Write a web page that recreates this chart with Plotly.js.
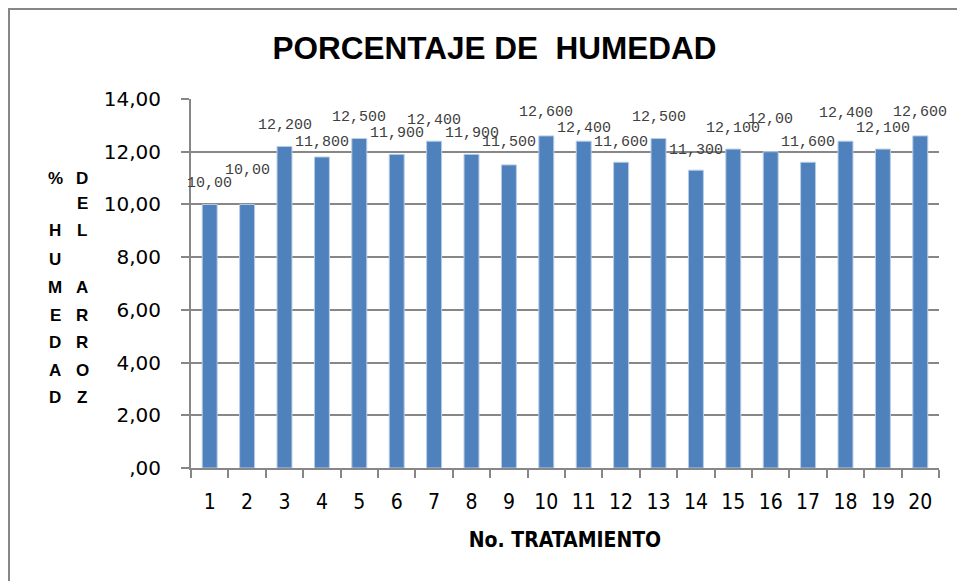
<!DOCTYPE html>
<html>
<head>
<meta charset="utf-8">
<script src="https://cdn.plot.ly/plotly-3.0.1.min.js"></script>
<style>
html,body{margin:0;padding:0;background:#fff;}
#wrap{position:relative;width:957px;height:581px;overflow:hidden;}
#chart{position:absolute;left:0;top:0;width:957px;height:581px;}
#frame{position:absolute;left:8px;top:8px;width:1000px;height:700px;border-left:2px solid #878787;border-top:2px solid #878787;pointer-events:none;}
</style>
</head>
<body>
<div id="wrap"><div id="chart"></div><div id="frame"></div></div>
<script>
// ---- data ----
const categories = ["1","2","3","4","5","6","7","8","9","10","11","12","13","14","15","16","17","18","19","20"];
const humedad = [10.0, 10.0, 12.2, 11.8, 12.5, 11.9, 12.4, 11.9, 11.5, 12.6, 12.4, 11.6, 12.5, 11.3, 12.1, 12.0, 11.6, 12.4, 12.1, 12.6];
const dataLabels = ["10,00","10,00","12,200","11,800","12,500","11,900","12,400","11,900","11,500","12,600","12,400","11,600","12,500","11,300","12,100","12,00","11,600","12,400","12,100","12,600"];
const yTickVals = [0, 2, 4, 6, 8, 10, 12, 14];
const yTickText = [",00", "2,00", "4,00", "6,00", "8,00", "10,00", "12,00", "14,00"];
const titleText = "PORCENTAJE DE\u00a0 HUMEDAD";
const xTitleText = "No. TRATAMIENTO";
const yTitleLeft = ["%", "", "H", "U", "M", "E", "D", "A", "D"];
const yTitleRight = ["D", "E", "L", "", "A", "R", "R", "O", "Z"];

// ---- styling (label offsets in px above bar top) ----
const labelShift = [21, 34, 21, 14, 21, 21, 21, 21, 22, 23, 13, 20, 21, 20, 21, 32, 20, 28, 21, 23];

const plotL = 191, plotR = 939, plotT = 99, plotB = 468;
const W = 957, H = 581;
const pw = plotR - plotL, ph = plotB - plotT;

const annotations = [];
categories.forEach((c, i) => {
  annotations.push({
    x: i, y: humedad[i], xref: 'x', yref: 'y',
    text: dataLabels[i], showarrow: false,
    xanchor: 'center', yanchor: 'middle', yshift: labelShift[i],
    font: {family: '"Liberation Mono", "Courier New", monospace', size: 15, color: '#404040'}
  });
});
const rowY = [178, 203, 231, 259, 287, 315, 342, 370, 397];
function addCol(letters, px) {
  letters.forEach((l, i) => {
    if (!l) return;
    annotations.push({
      x: (px - plotL) / pw, y: (plotB - rowY[i]) / ph, xref: 'paper', yref: 'paper',
      text: l, showarrow: false, xanchor: 'center', yanchor: 'middle',
      font: {family: '"Liberation Sans", Arial, sans-serif', size: 17, color: '#000', weight: 'bold'}
    });
  });
}
addCol(yTitleLeft, 55);
addCol(yTitleRight, 82);

const trace = {
  type: 'bar', x: categories, y: humedad,
  width: 0.4,
  marker: {color: '#4F81BD', line: {color: '#B9CDE5', width: 1}},
  hoverinfo: 'none'
};

const layout = {
  width: W, height: H,
  margin: {l: plotL, r: W - plotR, t: plotT, b: H - plotB, pad: 0},
  paper_bgcolor: '#ffffff', plot_bgcolor: '#ffffff',
  showlegend: false,
  title: {
    text: titleText, x: (494.5) / W, xanchor: 'center', y: 1 - 48 / H, yanchor: 'middle',
    font: {family: '"Liberation Sans", Arial, sans-serif', size: 31.5, color: '#000', weight: 'bold'}
  },
  xaxis: {
    type: 'category', tickson: 'boundaries',
    range: [-0.5, categories.length - 0.5],
    showline: true, linecolor: '#878787', linewidth: 2,
    ticks: 'outside', ticklen: 8, tickcolor: '#878787', tickwidth: 2,
    showgrid: false, zeroline: false,
    ticklabelstandoff: 14,
    tickfont: {family: '"Liberation Sans Narrow", "DejaVu Sans Condensed", Arial, sans-serif', size: 21, color: '#000'},
    title: {text: xTitleText, standoff: 19,
      font: {family: '"Liberation Sans Narrow", "DejaVu Sans Condensed", Arial, sans-serif', size: 21, color: '#000', weight: 'bold'}},
    fixedrange: true
  },
  yaxis: {
    range: [0, 14], tickmode: 'array', tickvals: yTickVals, ticktext: yTickText,
    showline: true, linecolor: '#878787', linewidth: 2,
    ticks: 'outside', ticklen: 8, tickcolor: '#878787', tickwidth: 2,
    showgrid: true, gridcolor: '#878787', gridwidth: 2,
    zeroline: false,
    ticklabelstandoff: 16,
    tickfont: {family: '"DejaVu Sans", Arial, sans-serif', size: 20, color: '#000'},
    fixedrange: true
  },
  annotations: annotations
};

Plotly.newPlot('chart', [trace], layout, {displayModeBar: false, staticPlot: true});
</script>
</body>
</html>
